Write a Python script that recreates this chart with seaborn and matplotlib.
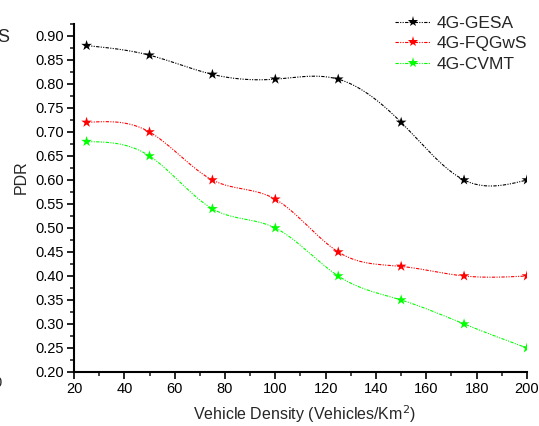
import numpy as np
import pandas as pd
import matplotlib
matplotlib.use("Agg")
import matplotlib.pyplot as plt
from matplotlib.lines import Line2D
from matplotlib.ticker import MultipleLocator
import seaborn as sns

density = [25, 50, 75, 100, 125, 150, 175, 200]
gesa = [0.88, 0.86, 0.82, 0.81, 0.81, 0.72, 0.60, 0.60]
fqgws = [0.72, 0.70, 0.60, 0.56, 0.45, 0.42, 0.40, 0.40]
cvmt = [0.68, 0.65, 0.54, 0.50, 0.40, 0.35, 0.30, 0.25]

series_names = ["4G-GESA", "4G-FQGwS", "4G-CVMT"]
series_values = [gesa, fqgws, cvmt]
palette = {"4G-GESA": "black", "4G-FQGwS": "#ff0000", "4G-CVMT": "#00ff00"}


def smooth_line(x, y, n=300):
    # natural cubic spline through the points (used only for the connecting curve)
    x = np.asarray(x, float)
    y = np.asarray(y, float)
    k = len(x)
    h = np.diff(x)
    A = np.zeros((k, k))
    b = np.zeros(k)
    A[0, 0] = A[-1, -1] = 1
    for i in range(1, k - 1):
        A[i, i - 1] = h[i - 1]
        A[i, i] = 2 * (h[i - 1] + h[i])
        A[i, i + 1] = h[i]
        b[i] = 6 * ((y[i + 1] - y[i]) / h[i] - (y[i] - y[i - 1]) / h[i - 1])
    m = np.linalg.solve(A, b)
    xs = np.linspace(x[0], x[-1], n)
    idx = np.clip(np.searchsorted(x, xs) - 1, 0, k - 2)
    x0, x1 = x[idx], x[idx + 1]
    hh = x1 - x0
    ys = (m[idx] * (x1 - xs) ** 3 / (6 * hh) + m[idx + 1] * (xs - x0) ** 3 / (6 * hh)
          + (y[idx] / hh - m[idx] * hh / 6) * (x1 - xs)
          + (y[idx + 1] / hh - m[idx + 1] * hh / 6) * (xs - x0))
    return xs, ys


df = pd.concat(
    [pd.DataFrame({"density": density, "pdr": vals, "scheme": name})
     for name, vals in zip(series_names, series_values)],
    ignore_index=True,
)

sns.set_style("ticks")
plt.rcParams["font.family"] = ["Liberation Sans", "DejaVu Sans"]

fig = plt.figure(figsize=(5.39, 4.26), dpi=100)
ax = fig.add_axes([0.1373, 0.1268, 0.8404, 0.8169])

dash = (3, 1.2, 1, 1.2, 1, 1.2)
for name, vals in zip(series_names, series_values):
    xs, ys = smooth_line(density, vals)
    ax.plot(xs, ys, color=palette[name], lw=0.8, dashes=dash, zorder=2)

sns.scatterplot(data=df, x="density", y="pdr", hue="scheme", palette=palette,
                marker="*", s=65, edgecolor=None, linewidth=0, legend=False,
                ax=ax, zorder=3)

ax.set_xlim(20, 200)
ax.set_ylim(0.2, 0.925)
ax.xaxis.set_major_locator(MultipleLocator(20))
ax.xaxis.set_minor_locator(MultipleLocator(10))
ax.set_yticks(np.arange(0.20, 0.901, 0.05))
ax.yaxis.set_minor_locator(MultipleLocator(0.025))
ax.yaxis.set_major_formatter(plt.FormatStrFormatter("%.2f"))

sns.despine(ax=ax)
for side in ["left", "bottom"]:
    ax.spines[side].set_linewidth(1.5)
    ax.spines[side].set_color("black")
ax.tick_params(which="major", direction="out", length=5, width=1.2,
               labelsize=10.5, colors="black", pad=2)
ax.tick_params(which="minor", direction="out", length=3, width=1.2)

ax.set_xlabel("Vehicle Density (Vehicles/Km$^2$)", fontsize=11.5)
ax.set_ylabel("PDR", fontsize=11.5)
ax.yaxis.set_label_coords(-0.099, 0.56)
ax.xaxis.set_label_coords(0.51, -0.09)

handles = [Line2D([0], [0], color=palette[n], lw=0.8, dashes=dash, marker="*",
                  markersize=8, markeredgewidth=0) for n in series_names]
ax.legend(handles, series_names, loc="upper left", bbox_to_anchor=(0.709, 1.024),
          frameon=False, fontsize=12.5, handlelength=2.0, labelspacing=0.32,
          handletextpad=0.4, borderpad=0, borderaxespad=0)

# edges of the neighbouring panel visible in the crop
fig.text(-0.006, 0.913, "S", fontsize=13, ha="left", va="center")
fig.text(-0.012, 0.101, "0", fontsize=10.5, ha="left", va="center")

fig.savefig("out.png", dpi=100)
